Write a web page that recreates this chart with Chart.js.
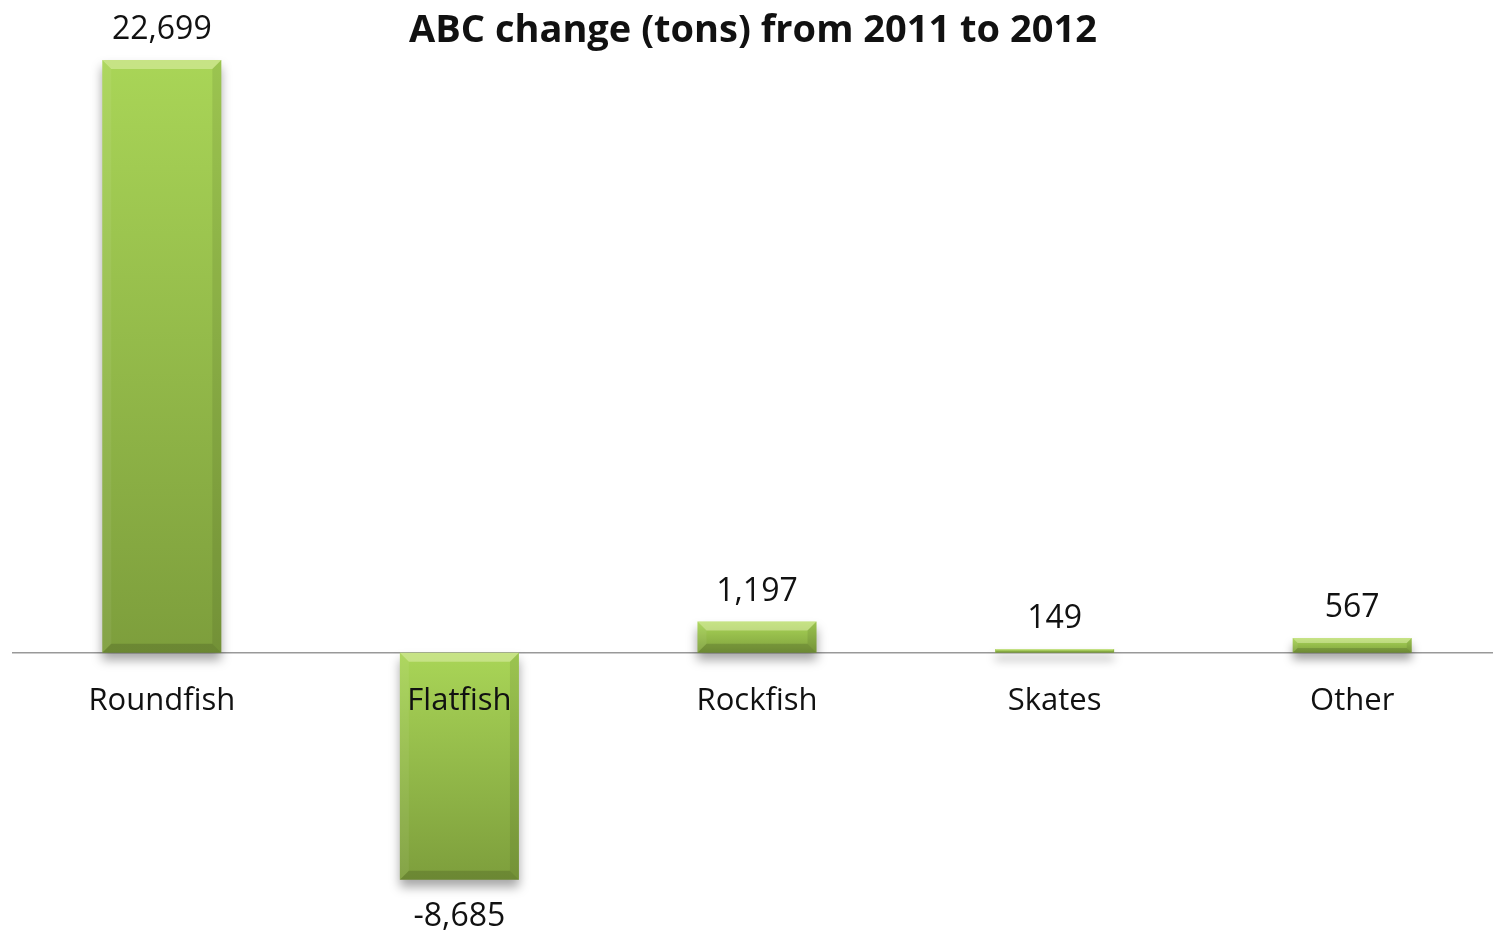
<!DOCTYPE html>
<html>
<head>
<meta charset="utf-8">
<script src="https://cdn.jsdelivr.net/npm/chart.js@4.4.1/dist/chart.umd.min.js"></script>
<style>
  html, body { margin: 0; padding: 0; background: #fff; overflow: hidden; }
  #wrap { position: relative; width: 1501px; height: 936px; }
</style>
</head>
<body>
<div id="wrap"><canvas id="myChart"></canvas></div>
<script>
// chart data
const categories = ['Roundfish', 'Flatfish', 'Rockfish', 'Skates', 'Other'];
const abcChange = [22699, -8685, 1197, 149, 567];
const chartTitle = 'ABC change (tons) from 2011 to 2012';

const FONT = '"Open Sans", "Noto Sans", sans-serif';
const TEXT = '#111';

// gradient fill per bar, light on top, darker at the bottom
const barFill = (c) => {
    const chart = c.chart;
    if (!chart.chartArea || c.type !== 'data') return '#98c24a';
    const y = chart.scales.y;
    const v = c.raw;
    const top = y.getPixelForValue(Math.max(v, 0));
    const bottom = y.getPixelForValue(Math.min(v, 0));
    const g = chart.ctx.createLinearGradient(0, top, 0, bottom + 1);
    g.addColorStop(0, '#a9d557');
    g.addColorStop(1, '#7d9e3c');
    return g;
};

// shadow under the bars + bevel edges on top of them
const bevelPlugin = {
    id: 'bevel',
    beforeDatasetDraw(chart) {
        const ctx = chart.ctx;
        ctx.save();
        ctx.shadowColor = 'rgba(0,0,0,0.35)';
        ctx.shadowBlur = 10;
        ctx.shadowOffsetY = 7;
    },
    afterDatasetDraw(chart, args) {
        const ctx = chart.ctx;
        ctx.restore();
        args.meta.data.forEach(bar => {
            const left = bar.x - bar.width / 2, right = bar.x + bar.width / 2;
            const top = Math.min(bar.y, bar.base), bottom = Math.max(bar.y, bar.base);
            const h = bottom - top;
            if (h < 2) return;
            const b = Math.min(9, h / 3);
            const poly = (pts, color) => {
                ctx.beginPath();
                ctx.moveTo(pts[0][0], pts[0][1]);
                pts.slice(1).forEach(p => ctx.lineTo(p[0], p[1]));
                ctx.closePath();
                ctx.fillStyle = color;
                ctx.fill();
            };
            ctx.save();
            poly([[left, top], [right, top], [right - b, top + b], [left + b, top + b]], 'rgba(255,255,220,0.35)');
            poly([[left, top], [left + b, top + b], [left + b, bottom - b], [left, bottom]], 'rgba(255,255,255,0.06)');
            poly([[right, top], [right, bottom], [right - b, bottom - b], [right - b, top + b]], 'rgba(0,0,0,0.08)');
            poly([[left, bottom], [left + b, bottom - b], [right - b, bottom - b], [right, bottom]], 'rgba(0,0,0,0.14)');
            ctx.restore();
        });
    }
};

// value labels above / below bars and the title
const labelPlugin = {
    id: 'labels',
    afterDatasetsDraw(chart) {
        const ctx = chart.ctx;
        const meta = chart.getDatasetMeta(0);
        ctx.save();
        ctx.fillStyle = TEXT;
        ctx.textAlign = 'center';
        ctx.textBaseline = 'middle';
        ctx.font = '32px ' + FONT;
        meta.data.forEach((bar, i) => {
            const v = abcChange[i];
            const y = v >= 0 ? bar.y - 30 : bar.y + 37;
            ctx.fillText(v.toLocaleString('en-US'), bar.x, y);
        });
        ctx.font = 'bold 38px ' + FONT;
        ctx.fillText(chartTitle, 753, 31);
        ctx.restore();
    }
};

let ctx = document.getElementById('myChart').getContext('2d');
let myChart = new Chart(ctx, {
    type: 'bar',
    data: {
        labels: categories,
        datasets: [{
            label: 'ABC change',
            data: abcChange,
            backgroundColor: barFill,
            borderWidth: 0,
            barPercentage: 0.4,
            categoryPercentage: 1.0
        }]
    },
    options: {
        responsive: true,
        maintainAspectRatio: false,
        animation: false,
        layout: { padding: { left: 13, right: 0, top: 0, bottom: 22 } },
        plugins: {
            legend: { display: false },
            tooltip: { enabled: false }
        },
        scales: {
            x: {
                position: { y: 0 },
                grid: { display: false },
                border: { display: true, color: '#999', width: 1.5 },
                ticks: { z: 1, color: TEXT, padding: 22, font: { family: FONT, size: 31 } }
            },
            y: {
                display: false,
                min: -10000,
                max: 25000
            }
        }
    },
    plugins: [bevelPlugin, labelPlugin]
});
</script>
</body>
</html>
